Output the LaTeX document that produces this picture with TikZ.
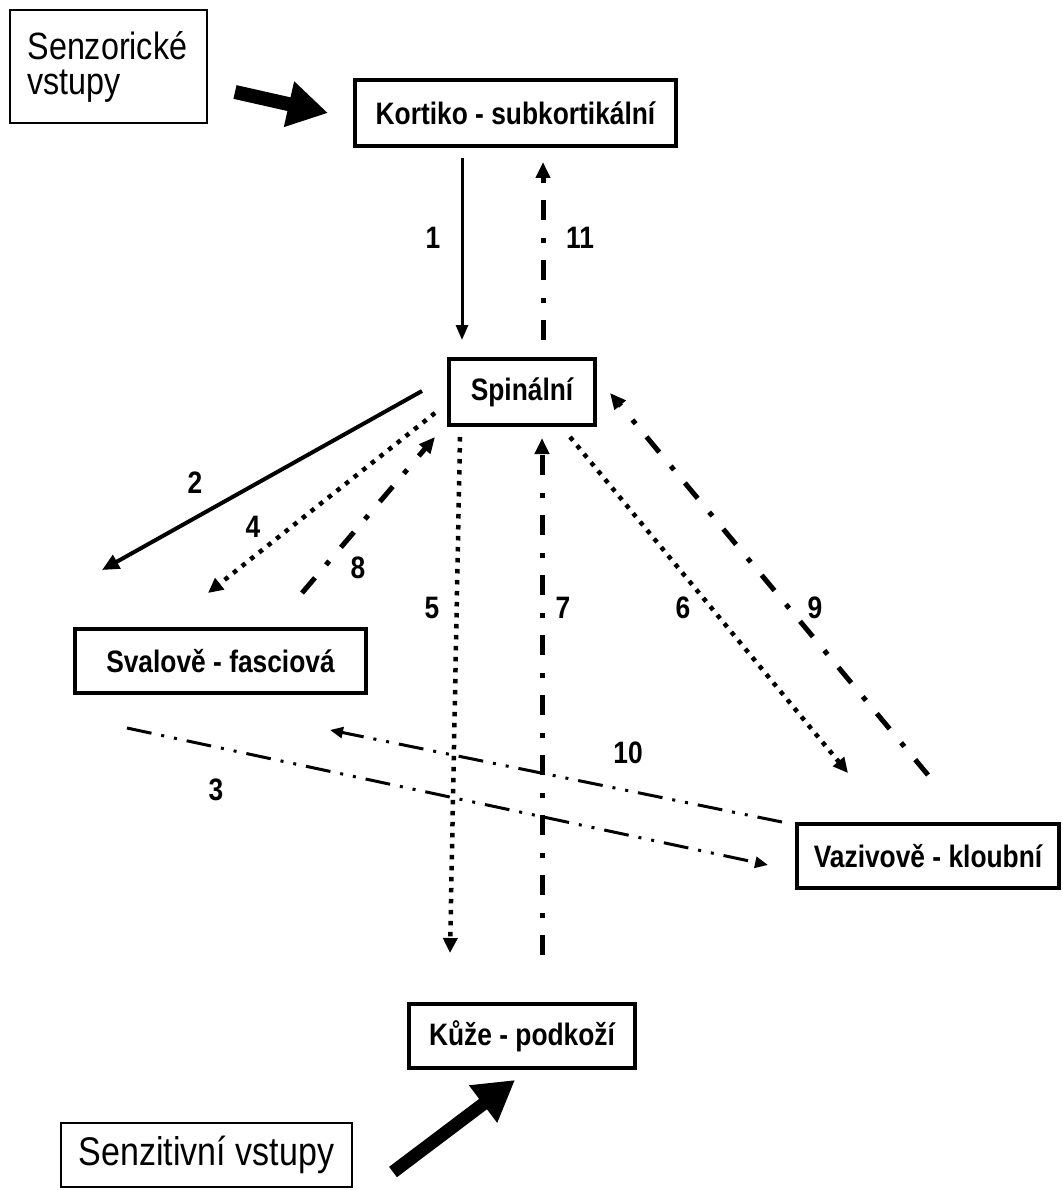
\documentclass[tikz,border=0pt]{standalone}
\usepackage{fontspec}
\setmainfont{Liberation Sans}[FakeStretch=0.85]
\usetikzlibrary{arrows.meta}
\tikzset{
  bbox/.style={draw, line width=4pt, fill=white, inner sep=0pt,
    font=\bfseries\fontsize{31}{36}\selectfont},
  ibox/.style={draw, line width=1.6pt, fill=white, inner sep=0pt,
    font=\fontsize{40}{36}\selectfont},
  num/.style={font=\bfseries\fontsize{31}{36}\selectfont, inner sep=0pt},
  bigarrow/.style={line width=14pt, -{Triangle[length=40pt,width=44pt]}},
  solidarr/.style={line width=3pt, -{Triangle[length=15pt,width=12pt]}},
  dotarr/.style={line width=4.5pt, dash pattern=on 4.5pt off 6.5pt, -{Triangle[length=15pt,width=14pt]}},
  dasharr/.style={line width=5pt, dash pattern=on 20pt off 17pt on 5pt off 18pt, -{Triangle[length=16pt,width=14pt]}},
  ddarr/.style={line width=3pt, dash pattern=on 25pt off 10pt on 3pt off 10pt on 3pt off 10pt, -{Triangle[length=13pt,width=11pt]}},
}
\begin{document}
\begin{tikzpicture}[x=1pt,y=-1pt]
\useasboundingbox[fill=white] (0,0) rectangle (1062,1190);

% boxes
\node[ibox, minimum width=197pt, minimum height=113pt, text width=162pt, align=left,
      font=\fontsize{38}{35}\selectfont] (senzor) at (108.5,66.5) {Senzorické\\vstupy};
\node[bbox, minimum width=321pt, minimum height=66pt] (kort) at (515.5,113) {Kortiko - subkortikální};
\node[bbox, minimum width=146pt, minimum height=66pt] (spin) at (522,392) {Spinální};
\node[bbox, minimum width=291pt, minimum height=64pt] (sval) at (220.5,661) {Svalově - fasciová};
\node[bbox, minimum width=262pt, minimum height=64pt] (vaz) at (928,856) {Vazivově - kloubní};
\node[bbox, minimum width=226pt, minimum height=64pt] (kuze) at (522,1036) {Kůže - podkoží};
\node[ibox, minimum width=291pt, minimum height=64pt] (senzit) at (206.5,1155) {Senzitivní vstupy};

% free connector ends
\coordinate (t1) at (235,92);   \coordinate (h1) at (328,113);
\coordinate (t2) at (393,1172); \coordinate (h2) at (515,1080);
\coordinate (a1s) at (462,158); \coordinate (a1e) at (462,340);
\coordinate (a11s) at (543,340); \coordinate (a11e) at (543,162);
\coordinate (a2s) at (422,391); \coordinate (a2e) at (102,570);
\coordinate (a4s) at (435,413); \coordinate (a4e) at (208,593);
\coordinate (a8s) at (302,593); \coordinate (a8e) at (435,437);
\coordinate (a5s) at (460,437); \coordinate (a5e) at (450,953);
\coordinate (a7s) at (542,955); \coordinate (a7e) at (542,438);
\coordinate (a6s) at (570,437); \coordinate (a6e) at (848,773);
\coordinate (a9s) at (928,775); \coordinate (a9e) at (610,393);
\coordinate (a10s) at (782,822); \coordinate (a10e) at (330,730);
\coordinate (a3s) at (127,728); \coordinate (a3e) at (768,865);

% thick input arrows
\draw[bigarrow] (t1) -- (h1);
\draw[bigarrow, line width=13pt] (t2) -- (h2);

% connectors
\draw[solidarr] (a1s) -- (a1e);
\draw[dasharr] (a11s) -- (a11e);
\draw[solidarr, line width=4pt, -{Triangle[length=17pt,width=15pt]}] (a2s) -- (a2e);
\draw[dotarr] (a4s) -- (a4e);
\draw[dasharr] (a8s) -- (a8e);
\draw[dotarr] (a5s) -- (a5e);
\draw[dasharr] (a7s) -- (a7e);
\draw[dotarr] (a6s) -- (a6e);
\draw[dasharr] (a9s) -- (a9e);
\draw[ddarr] (a10s) -- (a10e);
\draw[ddarr] (a3s) -- (a3e);

% labels
\node[num] (n1) at (433,238) {1};
\node[num] (n11) at (580,238) {11};
\node[num] (n2) at (195,483) {2};
\node[num] (n4) at (253,527) {4};
\node[num] (n8) at (358,568) {8};
\node[num] (n5) at (432,608) {5};
\node[num] (n7) at (563,608) {7};
\node[num] (n6) at (683,608) {6};
\node[num] (n9) at (815,608) {9};
\node[num] (n10) at (628,753) {10};
\node[num] (n3) at (216,790) {3};
\end{tikzpicture}
\end{document}
